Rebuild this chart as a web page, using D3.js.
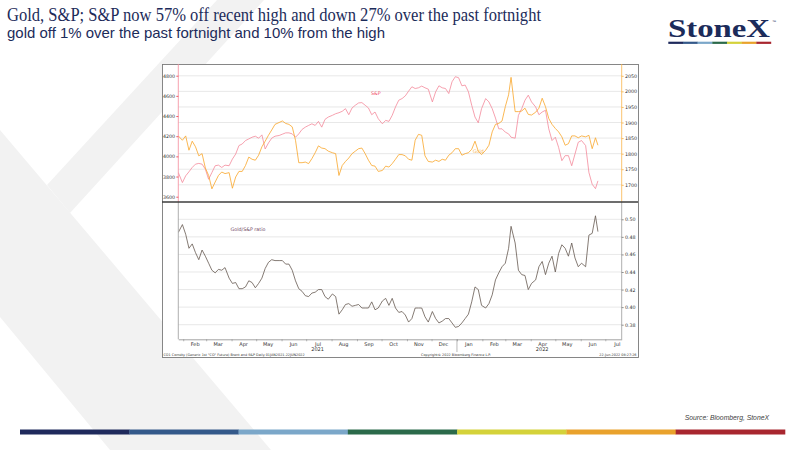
<!DOCTYPE html>
<html lang="en">
<head>
<meta charset="utf-8">
<title>Gold, S&amp;P and the Gold/S&amp;P ratio</title>
<script src="https://cdn.jsdelivr.net/npm/d3@7"></script>
<style>
  body { margin: 0; background: #fff; }
  svg { display: block; }
  .tick text { font-family: "DejaVu Sans", Verdana, sans-serif; }
</style>
</head>
<body>
<script>

// ---- data ----
var dates = [
  "2021-01-26","2021-01-31","2021-02-04","2021-02-08","2021-02-12","2021-02-16","2021-02-20","2021-02-24","2021-02-28","2021-03-04",
  "2021-03-08","2021-03-12","2021-03-16","2021-03-20","2021-03-24","2021-03-29","2021-04-02","2021-04-06","2021-04-10","2021-04-14",
  "2021-04-18","2021-04-22","2021-04-26","2021-04-30","2021-05-04","2021-05-08","2021-05-12","2021-05-16","2021-05-20","2021-05-24",
  "2021-05-29","2021-06-02","2021-06-06","2021-06-10","2021-06-14","2021-06-18","2021-06-22","2021-06-26","2021-06-30","2021-07-04",
  "2021-07-08","2021-07-12","2021-07-16","2021-07-20","2021-07-24","2021-07-28","2021-08-02","2021-08-06","2021-08-10","2021-08-14",
  "2021-08-18","2021-08-22","2021-08-26","2021-08-30","2021-09-03","2021-09-07","2021-09-11","2021-09-15","2021-09-19","2021-09-23",
  "2021-09-27","2021-10-02","2021-10-06","2021-10-10","2021-10-14","2021-10-18","2021-10-22",
  "2021-10-26","2021-10-30","2021-11-03","2021-11-07","2021-11-11","2021-11-15","2021-11-19","2021-11-23","2021-11-27","2021-12-02",
  "2021-12-06","2021-12-10","2021-12-14","2021-12-18","2021-12-22","2021-12-26","2021-12-30",
  "2022-01-03","2022-01-07","2022-01-11","2022-01-15","2022-01-19","2022-01-23","2022-01-27","2022-01-31","2022-02-05","2022-02-09",
  "2022-02-13","2022-02-17","2022-02-21","2022-02-25","2022-03-01","2022-03-05","2022-03-08","2022-03-13","2022-03-17","2022-03-21",
  "2022-03-25","2022-03-29","2022-04-02","2022-04-07","2022-04-11","2022-04-15","2022-04-19","2022-04-23","2022-04-27","2022-05-01",
  "2022-05-05","2022-05-09","2022-05-13","2022-05-17","2022-05-21","2022-05-25","2022-05-29","2022-06-02","2022-06-07","2022-06-11",
  "2022-06-15","2022-06-19","2022-06-22"
];

var spx = [
  3840,3740,3807,3847,3890,3923,3930,3923,3873,3773,
  3840,3907,3913,3890,3913,3907,3973,4023,4107,4123,
  4157,4173,4190,4200,4180,4213,4073,4133,4180,4200,
  4207,4220,4233,4233,4223,4190,4223,4267,4290,4307,
  4323,4307,4347,4290,4367,4390,4407,4423,4433,4447,
  4473,4413,4480,4507,4530,4533,4507,4480,4413,4440,
  4373,4323,4357,4347,4407,4490,4557,
  4573,4600,4647,4690,4673,4680,4697,4680,4667,4540,
  4640,4700,4680,4673,4623,4740,4790,
  4780,4700,4707,4640,4507,4390,4333,4473,4573,4540,
  4473,4380,4273,4273,4240,4223,4190,4180,4407,4473,
  4557,4607,4540,4490,4413,4440,4457,4273,4157,4190,
  4090,3957,4007,4007,3907,4023,4140,4157,4107,3840,
  3723,3680,3757
];

var gold = [
  1857,1843,1857,1811,1840,1822,1793,1800,1754,1730,
  1687,1709,1730,1741,1736,1739,1689,1725,1743,1743,
  1762,1789,1782,1779,1795,1822,1840,1859,1876,1894,
  1900,1905,1897,1894,1886,1843,1771,1771,1773,1768,
  1784,1803,1825,1818,1816,1808,1803,1800,1730,1762,
  1775,1786,1800,1808,1816,1818,1800,1779,1762,1760,
  1743,1746,1760,1757,1768,1782,1797,
  1797,1793,1782,1779,1843,1862,1859,1793,1775,1773,
  1779,1775,1782,1779,1795,1803,1816,
  1816,1795,1800,1803,1814,1840,1808,1797,1811,1827,
  1870,1894,1897,1905,1951,1989,2045,1935,1935,1937,
  1946,1926,1924,1933,1946,1978,1951,1913,1894,1881,
  1870,1854,1827,1832,1857,1857,1851,1857,1854,1859,
  1816,1851,1827
];

var ratio = [
  0.485,0.494,0.483,0.467,0.472,0.462,0.454,0.465,0.458,0.450,
  0.442,0.439,0.443,0.442,0.445,0.433,0.427,0.428,0.421,0.421,
  0.423,0.430,0.428,0.422,0.427,0.433,0.444,0.451,0.454,0.453,
  0.453,0.453,0.449,0.449,0.442,0.430,0.421,0.418,0.413,0.412,
  0.416,0.417,0.420,0.420,0.412,0.409,0.415,0.412,0.392,0.397,
  0.403,0.404,0.401,0.402,0.403,0.399,0.399,0.399,0.406,0.397,
  0.399,0.407,0.410,0.402,0.410,0.399,0.394,
  0.395,0.391,0.383,0.387,0.399,0.399,0.399,0.389,0.383,0.395,
  0.387,0.382,0.384,0.387,0.387,0.382,0.377,
  0.378,0.382,0.387,0.392,0.406,0.423,0.420,0.402,0.399,0.404,
  0.414,0.431,0.439,0.446,0.450,0.467,0.492,0.473,0.442,0.437,
  0.436,0.420,0.427,0.431,0.446,0.452,0.437,0.450,0.458,0.440,
  0.461,0.471,0.467,0.458,0.473,0.456,0.446,0.450,0.446,0.482,
  0.484,0.504,0.486
];

var spxTicks = [3600, 3800, 4000, 4200, 4400, 4600, 4800];
var goldTicks = [1700, 1750, 1800, 1850, 1900, 1950, 2000, 2050];
var ratioTicks = [0.38, 0.40, 0.42, 0.44, 0.46, 0.48, 0.50];
var monthLabels = ["2021-02","2021-03","2021-04","2021-05","2021-06","2021-07","2021-08","2021-09","2021-10",
                   "2021-11","2021-12","2022-01","2022-02","2022-03","2022-04","2022-05","2022-06","2022-07"];
var yearLabels = [["2021", "2021-07"], ["2022", "2022-04"]];
var stripColors = ["#1f2a5c", "#34598a", "#7ba7c9", "#2b6a4a", "#d4d23a", "#e9a22c", "#a8262f"];

var titleLine1 = "Gold, S&P; S&P now 57% off recent high and down 27% over the past fortnight";
var titleLine2 = "gold off 1% over the past fortnight and 10% from the high";

// ---- page ----
var w = 800, h = 450;
var navy = "#1c2b5a";

var svg = d3.select("body").append("svg")
  .attr("width", w)
  .attr("height", h);

svg.append("rect").attr("width", w).attr("height", h).attr("fill", "#fff");

// faint chevron watermark on the left
var watermark = [
  [[0, 130], [271, 450], [110, 450], [0, 317]],
  [[47, 185], [70, 213], [264, 0], [217, 0]]
];
svg.selectAll("polygon.wm").data(watermark).enter().append("polygon")
  .attr("class", "wm")
  .attr("points", function(p) { return p.join(" "); })
  .attr("fill", "#f2f2f2");

// title
svg.append("text").text(titleLine1)
  .attr("x", 7).attr("y", 21)
  .attr("textLength", 534).attr("lengthAdjust", "spacingAndGlyphs")
  .style("font-family", "'Liberation Serif', 'Times New Roman', serif")
  .style("font-size", "18.5px").attr("fill", navy);

svg.append("text").text(titleLine2)
  .attr("x", 7).attr("y", 37.5)
  .attr("textLength", 378).attr("lengthAdjust", "spacingAndGlyphs")
  .style("font-family", "'Liberation Sans', Arial, sans-serif")
  .style("font-size", "15px").attr("fill", navy);

// logo
svg.append("text").text("StoneX")
  .attr("x", 668).attr("y", 36.7)
  .attr("textLength", 102).attr("lengthAdjust", "spacingAndGlyphs")
  .style("font-family", "'Liberation Serif', 'Times New Roman', serif")
  .style("font-weight", "bold").style("font-size", "25px").attr("fill", navy);
svg.append("text").text("™")
  .attr("x", 772).attr("y", 23)
  .style("font-family", "'Liberation Sans', Arial, sans-serif")
  .style("font-size", "4px").attr("fill", navy);

var logoBar = d3.scaleBand().domain(d3.range(stripColors.length)).range([668.3, 771]);
svg.selectAll("rect.logobar").data(stripColors).enter().append("rect")
  .attr("class", "logobar")
  .attr("x", function(d, i) { return logoBar(i); })
  .attr("y", 41.7)
  .attr("width", logoBar.bandwidth() + 0.2)
  .attr("height", 2.2)
  .attr("fill", function(d) { return d; });

// bottom colour strip
var strip = d3.scaleBand().domain(d3.range(stripColors.length)).range([20, 785]);
svg.selectAll("rect.strip").data(stripColors).enter().append("rect")
  .attr("class", "strip")
  .attr("x", function(d, i) { return strip(i); })
  .attr("y", 429.5)
  .attr("width", strip.bandwidth() + 0.3)
  .attr("height", 5)
  .attr("fill", function(d) { return d; });

svg.append("text").text("Source: Bloomberg, StoneX")
  .attr("x", 769).attr("y", 419.5)
  .attr("text-anchor", "end")
  .style("font-family", "'Liberation Sans', Arial, sans-serif")
  .style("font-style", "italic")
  .style("font-size", "6.8px").attr("fill", "#404040");

// ---- chart box (Bloomberg panel) ----
var box = { left: 162, top: 64, right: 638, bottom: 357 };
var plotL = 178.3, plotR = 621.7;
var upperTop = 64, upperBot = 202;
var lowerTop = 202, lowerBot = 339.3;

svg.append("rect")
  .attr("x", box.left + 0.5).attr("y", box.top + 0.5)
  .attr("width", box.right - box.left).attr("height", box.bottom - box.top)
  .attr("fill", "#fff").attr("stroke", "#7a7a7a").attr("stroke-width", 0.9);

var parseDate = d3.timeParse("%Y-%m-%d");
var parseMonth = d3.timeParse("%Y-%m");
var rows = dates.map(function(d, i) {
  return { date: parseDate(d), spx: spx[i], gold: gold[i], ratio: ratio[i] };
});

// scales
var xScale = d3.scaleTime()
  .domain([parseDate("2021-01-26"), parseDate("2022-07-21")])
  .range([plotL, plotR]);

var ySpx = d3.scaleLinear().domain([3600, 4800]).range([196.7, 75.7]);
var yGold = d3.scaleLinear().domain([1700, 2050]).range([184.8, 75.8]);
var yRatio = d3.scaleLinear().domain([0.38, 0.50]).range([324.7, 219.3]);

var defs = svg.append("defs");
defs.append("clipPath").attr("id", "clipUp").append("rect")
  .attr("x", plotL).attr("y", upperTop).attr("width", plotR - plotL).attr("height", upperBot - upperTop);
defs.append("clipPath").attr("id", "clipLow").append("rect")
  .attr("x", plotL).attr("y", lowerTop).attr("width", plotR - plotL).attr("height", lowerBot - lowerTop);

// gridlines
svg.append("g").selectAll("line").data(goldTicks).enter().append("line")
  .attr("x1", plotL).attr("x2", plotR)
  .attr("y1", function(d) { return yGold(d); })
  .attr("y2", function(d) { return yGold(d); })
  .attr("stroke", "#d9d9d9").attr("stroke-width", 0.6);

svg.append("g").selectAll("line").data(ratioTicks).enter().append("line")
  .attr("x1", plotL).attr("x2", plotR)
  .attr("y1", function(d) { return yRatio(d); })
  .attr("y2", function(d) { return yRatio(d); })
  .attr("stroke", "#d9d9d9").attr("stroke-width", 0.6);

// line generators
var spxLine = d3.line()
  .x(function(d) { return xScale(d.date); })
  .y(function(d) { return ySpx(d.spx); });
var goldLine = d3.line()
  .x(function(d) { return xScale(d.date); })
  .y(function(d) { return yGold(d.gold); });
var ratioLine = d3.line()
  .x(function(d) { return xScale(d.date); })
  .y(function(d) { return yRatio(d.ratio); });

svg.append("path").datum(rows)
  .attr("clip-path", "url(#clipUp)")
  .attr("d", spxLine)
  .attr("fill", "none").attr("stroke", "#f4899b").attr("stroke-width", 0.8)
  .attr("stroke-linejoin", "round");

svg.append("path").datum(rows)
  .attr("clip-path", "url(#clipUp)")
  .attr("d", goldLine)
  .attr("fill", "none").attr("stroke", "#f9a62a").attr("stroke-width", 0.8)
  .attr("stroke-linejoin", "round");

svg.append("path").datum(rows)
  .attr("clip-path", "url(#clipLow)")
  .attr("d", ratioLine)
  .attr("fill", "none").attr("stroke", "#665950").attr("stroke-width", 0.8)
  .attr("stroke-linejoin", "round");

// ---- axes ----
function styleTicks(g, lineColor) {
  g.select(".domain").remove();
  g.selectAll(".tick line").attr("stroke", lineColor).attr("stroke-width", 0.7);
  g.selectAll(".tick text").style("font-size", "4.8px").attr("fill", "#333");
}

// S&P (left, pink)
svg.append("line")
  .attr("x1", plotL).attr("x2", plotL).attr("y1", upperTop).attr("y2", upperBot)
  .attr("stroke", "#f4899b").attr("stroke-width", 0.8);
svg.append("g")
  .attr("transform", "translate(" + plotL + ",0)")
  .call(d3.axisLeft(ySpx).tickValues(spxTicks).tickSize(2).tickPadding(1.2).tickFormat(d3.format("d")))
  .call(styleTicks, "#e4202c");

// Gold (right, orange)
svg.append("line")
  .attr("x1", plotR).attr("x2", plotR).attr("y1", upperTop).attr("y2", upperBot)
  .attr("stroke", "#f9b24a").attr("stroke-width", 0.8);
svg.append("g")
  .attr("transform", "translate(" + plotR + ",0)")
  .call(d3.axisRight(yGold).tickValues(goldTicks).tickSize(2).tickPadding(1.2).tickFormat(d3.format("d")))
  .call(styleTicks, "#f9a62a");

// ratio (right, grey)
svg.append("line")
  .attr("x1", plotL).attr("x2", plotL).attr("y1", lowerTop).attr("y2", lowerBot)
  .attr("stroke", "#9a9a9a").attr("stroke-width", 0.8);
svg.append("line")
  .attr("x1", plotR).attr("x2", plotR).attr("y1", lowerTop).attr("y2", lowerBot)
  .attr("stroke", "#9a9a9a").attr("stroke-width", 0.8);
svg.append("g")
  .attr("transform", "translate(" + plotR + ",0)")
  .call(d3.axisRight(yRatio).tickValues(ratioTicks).tickSize(2).tickPadding(1.2).tickFormat(d3.format(".2f")))
  .call(styleTicks, "#666");

// time axis: month boundary ticks
var monthStarts = monthLabels.map(function(m) { return parseMonth(m); });
svg.append("g")
  .attr("transform", "translate(0," + lowerBot + ")")
  .call(d3.axisBottom(xScale).tickValues(monthStarts)
        .tickSize(2).tickSizeOuter(0).tickFormat(""))
  .call(function(g) {
    g.select(".domain").attr("stroke", "#8a8a8a").attr("stroke-width", 0.8);
    g.selectAll(".tick line").attr("stroke", "#8a8a8a").attr("stroke-width", 0.6);
  });

// month names, centred mid-month
var monthMids = monthStarts.map(function(d) { return d3.timeDay.offset(d, 14); });
svg.append("g")
  .attr("transform", "translate(0," + lowerBot + ")")
  .call(d3.axisBottom(xScale).tickValues(monthMids).tickSize(0).tickPadding(3)
        .tickFormat(d3.timeFormat("%b")))
  .call(function(g) {
    g.select(".domain").remove();
    g.selectAll(".tick text").style("font-size", "5px").attr("fill", "#333");
  });

// year labels and the year break
svg.selectAll("text.year").data(yearLabels).enter().append("text")
  .attr("class", "year")
  .attr("x", function(d) { return xScale(d3.timeDay.offset(parseMonth(d[1]), 14)); })
  .attr("y", 350.5)
  .attr("text-anchor", "middle")
  .style("font-family", "'DejaVu Sans', Verdana, sans-serif")
  .style("font-size", "5px").attr("fill", "#333")
  .text(function(d) { return d[0]; });

svg.append("line")
  .attr("x1", xScale(parseMonth("2022-01"))).attr("x2", xScale(parseMonth("2022-01")))
  .attr("y1", lowerBot).attr("y2", 352)
  .attr("stroke", "#8a8a8a").attr("stroke-width", 0.6);

// divider between the two panels
svg.append("line")
  .attr("x1", box.left).attr("x2", box.right)
  .attr("y1", upperBot).attr("y2", upperBot)
  .attr("stroke", "#3d3d3d").attr("stroke-width", 1.4);

// series labels
var smallFont = "'DejaVu Sans', Verdana, sans-serif";
svg.append("text").text("S&P")
  .attr("x", xScale(parseDate("2021-09-24"))).attr("y", 94.5)
  .attr("text-anchor", "middle")
  .style("font-family", smallFont).style("font-size", "4.8px").attr("fill", "#f0506a");
svg.append("text").text("Gold")
  .attr("x", xScale(parseDate("2022-01-27"))).attr("y", 152.5)
  .attr("text-anchor", "middle")
  .style("font-family", smallFont).style("font-size", "4.8px").attr("fill", "#f7b453");
svg.append("text").text("Gold/S&P ratio")
  .attr("x", xScale(parseDate("2021-04-21"))).attr("y", 231)
  .attr("text-anchor", "middle")
  .style("font-family", smallFont).style("font-size", "4.8px").attr("fill", "#6e3f60");

// Bloomberg footer
var footFont = { family: "'DejaVu Sans', Verdana, sans-serif", size: "3.4px" };
svg.append("text").text('CO1 Comdty (Generic 1st "CO" Future) Brent and S&P   Daily 01JAN2021-22JUN2022')
  .attr("x", 163.5).attr("y", 355.5)
  .style("font-family", footFont.family).style("font-size", footFont.size).attr("fill", "#333");
svg.append("text").text("Copyright\u00a9 2022 Bloomberg Finance L.P.")
  .attr("x", 456).attr("y", 355.5).attr("text-anchor", "middle")
  .style("font-family", footFont.family).style("font-size", footFont.size).attr("fill", "#333");
svg.append("text").text("22-Jun-2022 08:27:26")
  .attr("x", 636.5).attr("y", 355.5).attr("text-anchor", "end")
  .style("font-family", footFont.family).style("font-size", footFont.size).attr("fill", "#333");

</script>
</body>
</html>
